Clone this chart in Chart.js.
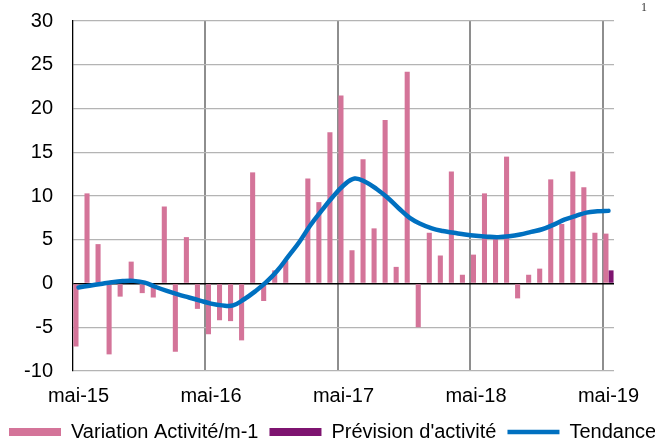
<!DOCTYPE html>
<html>
<head>
<meta charset="utf-8">
<script src="https://cdn.jsdelivr.net/npm/chart.js@4"></script>
<style>
  html, body { margin: 0; padding: 0; background: #fff; overflow: hidden; }
  #wrap { position: absolute; left: -2px; top: 0; width: 700px; height: 452px; }
  #corner { position: absolute; left: 641px; top: 0px; font: 12px "Liberation Serif", serif; color: #333; }
</style>
</head>
<body>
<div id="wrap"><canvas id="graphique"></canvas></div>
<span id="corner">1</span>
<script>
const mois = [
    'mai-15', 'juin-15', 'juil.-15', 'août-15', 'sept.-15', 'oct.-15', 'nov.-15', 'déc.-15',
    'janv.-16', 'févr.-16', 'mars-16', 'avr.-16', 'mai-16', 'juin-16', 'juil.-16', 'août-16',
    'sept.-16', 'oct.-16', 'nov.-16', 'déc.-16', 'janv.-17', 'févr.-17', 'mars-17', 'avr.-17',
    'mai-17', 'juin-17', 'juil.-17', 'août-17', 'sept.-17', 'oct.-17', 'nov.-17', 'déc.-17',
    'janv.-18', 'févr.-18', 'mars-18', 'avr.-18', 'mai-18', 'juin-18', 'juil.-18', 'août-18',
    'sept.-18', 'oct.-18', 'nov.-18', 'déc.-18', 'janv.-19', 'févr.-19', 'mars-19', 'avr.-19',
    'mai-19'
];

// variation mensuelle de l'activité (%)
const variation = [
    -7.2, 10.3, 4.5, -8.1, -1.5, 2.5, -1.1, -1.6, 8.8, -7.8, 5.3, -2.9,
    -5.8, -4.2, -4.3, -6.5, 12.7, -2.0, 1.5, 2.6, 0, 12.0, 9.3, 17.3,
    21.5, 3.8, 14.2, 6.3, 18.7, 1.9, 24.2, -5.0, 5.8, 3.2, 12.8, 1.0,
    3.3, 10.3, 5.1, 14.5, -1.7, 1.0, 1.7, 11.9, 6.8, 12.8, 11.0, 5.8,
    5.7
];

// prévision : seulement le dernier mois
const prevision = [
    null, null, null, null, null, null, null, null, null, null, null, null,
    null, null, null, null, null, null, null, null, null, null, null, null,
    null, null, null, null, null, null, null, null, null, null, null, null,
    null, null, null, null, null, null, null, null, null, null, null, null,
    1.5
];

const tendance = [
    -0.45, -0.25, -0.05, 0.15, 0.28, 0.3, 0.1, -0.4, -0.85, -1.25, -1.6, -1.95,
    -2.3, -2.5, -2.5, -1.8, -0.9, 0.15, 1.45, 3.1, 4.75, 6.65, 8.3, 9.85,
    11.2, 12.0, 11.6, 10.8, 9.8, 8.6, 7.5, 6.8, 6.3, 6.0, 5.8, 5.6,
    5.45, 5.35, 5.3, 5.4, 5.6, 5.9, 6.2, 6.7, 7.3, 7.7, 8.1, 8.25,
    8.3
];

const yTicks = [-10, -5, 0, 5, 10, 15, 20, 25, 30];

const police = { family: '"Liberation Sans", Arial, sans-serif', size: 20 };

const data = {
    labels: mois,
    datasets: [{
        type: 'bar',
        label: 'Variation Activité/m-1',
        data: variation,
        backgroundColor: '#D47499',
        pointStyle: 'rect',
        order: 2
    }, {
        type: 'bar',
        label: "Prévision d'activité",
        data: prevision,
        backgroundColor: '#7E1470',
        pointStyle: 'rect',
        order: 3
    }, {
        type: 'line',
        label: 'Tendance',
        data: tendance,
        borderColor: '#0070C0',
        backgroundColor: '#0070C0',
        borderWidth: 4.5,
        borderCapStyle: 'round',
        pointRadius: 0,
        pointStyle: 'line',
        tension: 0.4,
        order: 1
    }]
};

const options = {
    animation: false,
    responsive: true,
    maintainAspectRatio: false,
    datasets: {
        bar: { categoryPercentage: 0.92, barPercentage: 1.0 }
    },
    layout: { padding: { top: 21, left: 0, right: 0, bottom: 0 } },
    plugins: {
        tooltip: { enabled: false },
        legend: {
            position: 'bottom',
            align: 'start',
            labels: {
                font: police,
                color: '#000',
                usePointStyle: true,
                pointStyleWidth: 52,
                boxHeight: 8,
                padding: 11,
                sort: (a, b) => a.datasetIndex - b.datasetIndex
            }
        }
    },
    scales: {
        x: {
            grid: {
                offset: true,
                drawTicks: false,
                color: (ctx) => (ctx.index > 0 && ctx.index % 12 === 0) ? '#8E8E8E' : 'rgba(0,0,0,0)',
                lineWidth: 2
            },
            border: { display: false },
            ticks: {
                autoSkip: false,
                maxRotation: 0,
                padding: 13,
                color: '#000',
                font: police,
                callback: function (val, i) { return i % 12 === 0 ? this.getLabelForValue(val) : ''; }
            },
            afterFit: (s) => { s.height = 40; }
        },
        y: {
            min: -10,
            max: 30,
            afterBuildTicks: (s) => { s.ticks = yTicks.map(v => ({ value: v })); },
            grid: {
                drawTicks: false,
                color: (ctx) => ctx.tick && ctx.tick.value === 0 ? '#000' : '#B4B4B4',
                lineWidth: (ctx) => ctx.tick && ctx.tick.value === 0 ? 1.5 : 1.3
            },
            border: { color: '#000', width: 1.3 },
            ticks: { padding: 20, color: '#000', font: police },
            afterFit: (s) => { s.width = 75; s.paddingTop = 0; s.paddingBottom = 0; }
        },
        y2: {
            position: 'right',
            display: true,
            grid: { display: false, drawTicks: false },
            border: { display: false },
            ticks: { display: false },
            afterFit: (s) => { s.width = 84; s.paddingTop = 0; s.paddingBottom = 0; }
        }
    }
};

new Chart(document.getElementById('graphique'), { data: data, options: options });
</script>
</body>
</html>
